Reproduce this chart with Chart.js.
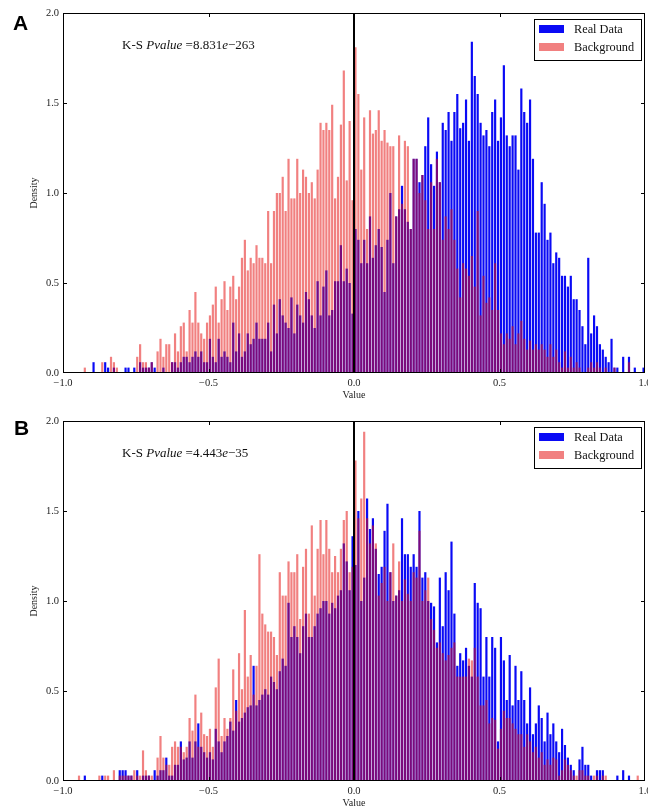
<!DOCTYPE html>
<html><head><meta charset="utf-8">
<script src="https://cdn.jsdelivr.net/npm/chart.js@4.4.1/dist/chart.umd.min.js"></script>
<style>
html,body{margin:0;padding:0;background:#fff;overflow:hidden;width:648px;height:809px;}
#wrap{position:relative;width:648px;height:809px;overflow:hidden;}
canvas{position:absolute;left:0;}
#cA{top:0}
#cB{top:408px}
.plabel{position:absolute;font-family:"Liberation Sans",Arial,sans-serif;font-weight:bold;font-size:21px;line-height:21px;color:#000;}
</style></head><body>
<div id="wrap">
<canvas id="cA" width="648" height="404" style="width:648px;height:404px"></canvas>
<canvas id="cB" width="648" height="404" style="width:648px;height:404px"></canvas>
<div class="plabel" style="left:13px;top:12px">A</div>
<div class="plabel" style="left:14px;top:417px">B</div>
</div>
<script>
// ---- categories / ticks ----
const binCenters = Array.from({length: 200}, (_, i) => (2 * i - 199) / 200); // bins of width 0.01 on [-1, 1]
const xTickValues = [-1, -0.5, 0, 0.5, 1];
const xTickLabels = ['\u22121.0', '\u22120.5', '0.0', '0.5', '1.0'];
const yTickValues = [0, 0.5, 1, 1.5, 2];
const yTickLabels = ['0.0', '0.5', '1.0', '1.5', '2.0'];
const seriesNames = ['Real Data', 'Background'];
const ksTextA = ['8.831', '\u2212263'];
const ksTextB = ['4.443', '\u221235'];

// ---- panel A values (density per bin) ----
const realA = [
0,0,0,0,0,0,0,0,0,0,
0.06,0,0,0,0.06,0.03,0,0.03,0,0,
0,0.03,0.03,0,0.03,0,0.06,0.03,0.03,0.03,
0.06,0.03,0,0,0.03,0,0,0.06,0.06,0.03,
0.06,0.09,0.09,0.06,0.09,0.12,0.09,0.12,0.06,0.06,
0.19,0.09,0.06,0.19,0.09,0.12,0.09,0.06,0.28,0.12,
0.22,0.09,0.12,0.22,0.16,0.19,0.28,0.19,0.19,0.19,
0.28,0.12,0.38,0.22,0.41,0.32,0.28,0.25,0.42,0.22,
0.38,0.32,0.28,0.45,0.41,0.32,0.25,0.51,0.32,0.48,
0.57,0.32,0.35,0.51,0.51,0.71,0.51,0.58,0.50,0.33,
0.80,0.74,0.61,0.74,0.61,0.87,0.64,0.71,0.80,0.70,
0.45,0.74,1.00,0.61,0.87,0.91,1.04,0.91,0.84,0.80,
1.19,1.19,1.06,1.10,1.26,1.42,1.16,1.04,1.23,1.06,
1.39,1.35,1.45,1.29,1.45,1.55,1.36,1.39,1.52,1.29,
1.84,1.65,1.55,1.39,1.32,1.35,1.26,1.45,1.52,1.29,
1.42,1.71,1.32,1.26,1.32,1.32,1.13,1.58,1.45,1.39,
1.52,1.19,0.78,0.78,1.06,0.94,0.74,0.78,0.61,0.67,
0.64,0.54,0.54,0.48,0.54,0.41,0.41,0.35,0.26,0.16,
0.64,0.22,0.32,0.26,0.16,0.13,0.09,0.06,0.19,0.03,
0.03,0,0.09,0,0.09,0,0.03,0,0,0.03
];
const bgA = [
0,0,0,0,0,0,0,0.03,0,0,
0,0,0,0.06,0,0,0.09,0.06,0.03,0,
0,0,0,0,0,0.09,0.16,0.06,0.06,0.03,
0.06,0,0.12,0.19,0.09,0.16,0.16,0.06,0.22,0.12,
0.26,0.28,0.12,0.35,0.28,0.45,0.28,0.22,0.19,0.28,
0.32,0.38,0.48,0.28,0.41,0.51,0.35,0.48,0.54,0.41,
0.48,0.64,0.74,0.57,0.64,0.61,0.71,0.64,0.64,0.61,
0.90,0.61,0.90,1.00,1.00,1.09,0.90,1.19,0.97,0.97,
1.19,1.00,1.13,1.09,1.00,1.06,0.97,1.13,1.39,1.35,
1.39,1.35,1.49,0.97,1.09,1.38,1.68,1.07,1.40,0.96,
1.81,1.55,1.13,1.42,0.80,1.46,1.33,1.35,1.46,1.29,
1.35,1.28,1.26,1.26,0.87,1.32,0.94,1.29,1.26,0.80,
1.19,1.19,1.00,1.10,0.96,0.80,1.06,0.80,1.19,1.06,
0.74,0.87,0.80,0.91,0.74,0.58,0.42,0.61,0.58,0.54,
0.65,0.48,0.90,0.32,0.54,0.39,0.42,0.35,0.61,0.35,
0.22,0.16,0.22,0.19,0.26,0.16,0.22,0.29,0.19,0.13,
0.18,0.13,0.16,0.13,0.16,0.13,0.09,0.16,0.09,0.13,
0.06,0.03,0.12,0.03,0.09,0.03,0.06,0.03,0,0,
0.03,0.06,0.03,0.06,0.03,0,0.03,0,0,0.03,
0,0,0,0,0.06,0,0,0,0,0
];

// ---- panel B values (density per bin) ----
const realB = [
0,0,0,0,0,0,0,0.03,0,0,
0,0,0,0.03,0,0,0,0,0,0.06,
0.06,0.06,0.03,0.03,0,0.06,0,0.03,0.03,0.03,
0,0.06,0.03,0.06,0.06,0.13,0.03,0.03,0.09,0.09,
0.22,0.12,0.13,0.22,0.13,0.22,0.32,0.19,0.16,0.13,
0.16,0.12,0.29,0.22,0.16,0.22,0.25,0.33,0.28,0.45,
0.33,0.35,0.38,0.41,0.42,0.64,0.42,0.45,0.48,0.51,
0.48,0.58,0.55,0.51,0.61,0.68,0.64,0.99,0.80,0.86,
0.80,0.71,0.86,0.93,0.80,0.80,0.86,0.93,0.96,1.00,
1.00,0.93,0.99,0.96,1.03,1.06,1.32,1.22,1.06,1.36,
1.20,1.50,1.00,1.13,1.57,1.40,1.46,1.29,1.15,1.19,
1.39,1.54,1.16,1.00,1.03,1.06,1.46,1.26,1.26,1.19,
1.26,1.19,1.50,1.13,1.16,1.00,0.99,0.97,0.77,1.13,
0.86,1.16,1.06,1.33,0.93,0.64,0.71,0.67,0.74,0.64,
0.58,1.10,0.99,0.96,0.58,0.80,0.58,0.80,0.74,0.22,
0.80,0.67,0.45,0.70,0.42,0.64,0.45,0.61,0.45,0.32,
0.52,0.26,0.32,0.42,0.35,0.22,0.38,0.26,0.32,0.22,
0.16,0.29,0.20,0.13,0.09,0.06,0,0.12,0.19,0.09,
0.09,0.03,0,0.06,0.06,0.06,0,0,0,0,
0.03,0,0.06,0,0.03,0,0,0,0,0
];
const bgB = [
0,0,0,0,0,0.03,0,0,0,0,
0,0,0.03,0,0.03,0.03,0,0.06,0,0.03,
0.03,0.03,0.03,0.03,0.06,0.03,0.03,0.17,0.06,0.03,
0.03,0,0.13,0.25,0.13,0.09,0.09,0.19,0.22,0.19,
0.19,0.16,0.19,0.35,0.28,0.48,0.19,0.38,0.26,0.25,
0.29,0.19,0.52,0.68,0.25,0.35,0.29,0.35,0.62,0.39,
0.71,0.51,0.95,0.58,0.70,0.48,0.64,1.26,0.93,0.87,
0.83,0.83,0.80,0.70,1.16,1.03,1.03,1.22,1.16,1.16,
1.26,0.90,1.19,1.29,0.93,1.42,1.03,1.29,1.45,1.26,
1.45,1.29,1.16,1.25,1.16,1.29,1.45,1.50,1.16,1.19,
1.78,1.46,1.57,1.94,1.46,1.32,1.42,1.32,1.03,1.10,
1.19,1.00,1.16,1.32,1.03,1.22,1.00,1.12,1.04,1.00,
1.16,1.13,1.39,1.00,1.06,1.13,0.90,0.84,0.74,0.77,
0.71,0.67,0.70,0.74,0.77,0.58,0.58,0.58,0.58,0.68,
0.67,0.74,0.58,0.42,0.42,0.45,0.32,0.35,0.34,0.18,
0.29,0.39,0.35,0.35,0.32,0.29,0.26,0.26,0.19,0.26,
0.22,0.16,0.19,0.13,0.16,0.09,0.12,0.09,0.13,0.12,
0.03,0.06,0.12,0.09,0.06,0.03,0.03,0.06,0.06,0.03,
0.03,0,0.03,0.03,0,0.03,0.03,0,0,0,
0,0,0,0,0,0,0,0.03,0,0
];

// ---- styling ----
const SERIF = '"Liberation Serif","Times New Roman",serif';
const BLUE = 'rgb(10,10,245)';
const RED = 'rgba(228,12,12,0.52)';
const TEXT = '#222';
const annotAnchor = {x: -0.797, y: 1.8};

function decorPlugin(ksText) {
  return {
    id: 'decor',
    afterDatasetsDraw(chart) {
      const {ctx, chartArea: a, scales: {x, y}} = chart;
      ctx.save();
      // frame
      ctx.strokeStyle = '#000';
      ctx.lineWidth = 1;
      ctx.strokeRect(a.left + 0.5, a.top + 0.5, a.right - a.left - 1, a.bottom - a.top - 1);
      // inward ticks on all four sides
      const clampX = p => Math.min(Math.max(p, a.left + 0.5), a.right - 0.5);
      const clampY = p => Math.min(Math.max(p, a.top + 0.5), a.bottom - 0.5);
      ctx.beginPath();
      xTickValues.forEach(v => {
        const px = clampX(Math.round(x.getPixelForValue(v)) + 0.5);
        ctx.moveTo(px, a.bottom); ctx.lineTo(px, a.bottom - 4);
        ctx.moveTo(px, a.top); ctx.lineTo(px, a.top + 4);
      });
      yTickValues.forEach(v => {
        const py = clampY(Math.round(y.getPixelForValue(v)) + 0.5);
        ctx.moveTo(a.left, py); ctx.lineTo(a.left + 4, py);
        ctx.moveTo(a.right, py); ctx.lineTo(a.right - 4, py);
      });
      ctx.stroke();

      // K-S annotation
      let tx = x.getPixelForValue(annotAnchor.x);
      const ty = y.getPixelForValue(annotAnchor.y);
      ctx.fillStyle = '#111';
      ctx.textBaseline = 'alphabetic';
      ctx.textAlign = 'left';
      const segs = [
        ['K-S ', false], ['Pvalue', true], [' =', false],
        [ksText[0], false], ['e', true], [ksText[1], false]
      ];
      segs.forEach(([t, it]) => {
        ctx.font = (it ? 'italic ' : '') + '13px ' + SERIF;
        ctx.fillText(t, tx, ty);
        tx += ctx.measureText(t).width;
      });

      // legend
      const bw = 107, bh = 41;
      const bx = a.right - 4 - bw, by = a.top + 6;
      ctx.fillStyle = '#fff';
      ctx.fillRect(bx, by, bw, bh);
      ctx.strokeStyle = '#000';
      ctx.lineWidth = 1;
      ctx.strokeRect(Math.round(bx) + 0.5, Math.round(by) + 0.5, bw, bh);
      const items = chart.data.datasets.filter(d => d.label);
      items.forEach((d, k) => {
        ctx.fillStyle = d.backgroundColor;
        ctx.fillRect(bx + 5, by + 6 + k * 18, 25, 8);
        ctx.fillStyle = '#111';
        ctx.font = '12.3px ' + SERIF;
        ctx.fillText(d.label, bx + 40, by + 14 + k * 18);
      });
      ctx.restore();
    }
  };
}

function makeChart(id, real, bg, ksText) {
  const ctx = document.getElementById(id).getContext('2d');
  return new Chart(ctx, {
    type: 'bar',
    data: {
      datasets: [
        {
          type: 'bar', label: seriesNames[0],
          data: binCenters.map((c, i) => ({x: c, y: real[i]})),
          backgroundColor: BLUE, borderWidth: 0,
          barPercentage: 0.75, categoryPercentage: 1, grouped: false, order: 2
        },
        {
          type: 'bar', label: seriesNames[1],
          data: binCenters.map((c, i) => ({x: c, y: bg[i]})),
          backgroundColor: RED, borderWidth: 0,
          barPercentage: 0.75, categoryPercentage: 1, grouped: false, order: 1
        },
        {
          type: 'line',
          data: [{x: 0, y: 0}, {x: 0, y: 2}],
          borderColor: '#000', borderWidth: 2, pointRadius: 0, fill: false, order: 0
        }
      ]
    },
    options: {
      responsive: false,
      animation: false,
      events: [],
      devicePixelRatio: 1,
      layout: {padding: {top: 13, right: 3, left: 0, bottom: 0}},
      plugins: {legend: {display: false}, tooltip: {enabled: false}},
      scales: {
        x: {
          type: 'linear', min: -1, max: 1, offset: false,
          afterBuildTicks: s => { s.ticks = xTickValues.map(v => ({value: v})); },
          ticks: {
            callback: v => xTickLabels[xTickValues.indexOf(v)],
            font: {family: SERIF, size: 10.5}, color: TEXT, padding: 4,
            maxRotation: 0, autoSkip: false
          },
          grid: {display: false, drawTicks: false},
          border: {display: false},
          title: {display: true, text: 'Value', font: {family: SERIF, size: 10}, color: TEXT, padding: {top: 0, bottom: 2.5}},
          afterFit: s => { s.height = 31; s.paddingLeft = 0; s.paddingRight = 0; }
        },
        y: {
          min: 0, max: 2,
          afterBuildTicks: s => { s.ticks = yTickValues.map(v => ({value: v})); },
          ticks: {
            callback: v => yTickLabels[yTickValues.indexOf(v)],
            font: {family: SERIF, size: 10.5}, color: TEXT, padding: 4
          },
          grid: {display: false, drawTicks: false},
          border: {display: false},
          title: {display: true, text: 'Density', font: {family: SERIF, size: 10}, color: TEXT, padding: {top: 28.5, bottom: 0}},
          afterFit: s => { s.width = 63; s.paddingTop = 0; s.paddingBottom = 0; }
        }
      }
    },
    plugins: [decorPlugin(ksText)]
  });
}

makeChart('cA', realA, bgA, ksTextA);
makeChart('cB', realB, bgB, ksTextB);
</script>
</body></html>
